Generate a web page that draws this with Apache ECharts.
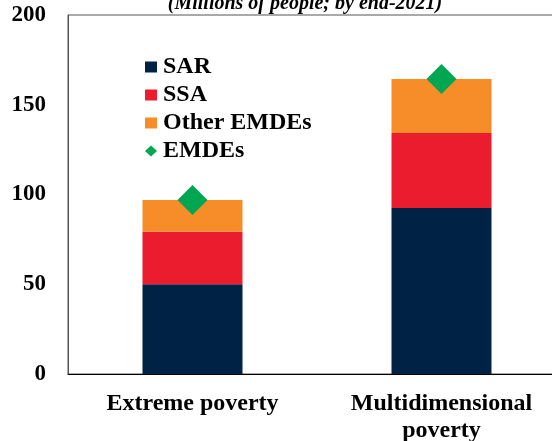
<!DOCTYPE html>
<html><head><meta charset="utf-8">
<script src="https://cdn.jsdelivr.net/npm/echarts@6/dist/echarts.min.js"></script>
<style>html,body{margin:0;padding:0;background:#fff}#c{width:552px;height:441px}</style>
</head><body><div id="c"></div>
<script>
const categories = ['Extreme poverty', 'Multidimensional\npoverty'];
const sar = [50, 92.5];
const ssa = [29.3, 41.8];
const other = [17.6, 30];
const emdes = [97, 164.3];
const yTicks = [0, 50, 100, 150, 200];

const font = '"Liberation Serif","Times New Roman",serif';
const chart = echarts.init(document.getElementById('c'));
chart.setOption({
  animation: false,
  title: {
    text: '(Millions of people; by end-2021)',
    left: 300, textAlign: 'center', top: -11,
    textStyle: {fontFamily: font, fontStyle: 'italic', fontWeight: 'bold', fontSize: 20, color: '#000'}
  },
  legend: {
    orient: 'vertical', left: 140, top: 50, itemGap: 4, itemWidth: 12, itemHeight: 11,
    data: [
      {name: 'SAR', icon: 'rect'},
      {name: 'SSA', icon: 'rect'},
      {name: 'Other EMDEs', icon: 'rect'},
      {name: 'EMDEs', icon: 'diamond'}
    ],
    textStyle: {fontFamily: font, fontWeight: 'bold', fontSize: 24, color: '#000', padding: [0,0,0,1]}
  },
  grid: {left: 68, right: -14, top: 15, bottom: 67, show: true, borderColor: '#555', borderWidth: 1, outerBoundsMode: 'none', containLabel: false},
  xAxis: {
    type: 'category', data: categories,
    axisLine: {lineStyle: {color: '#000', width: 1}},
    axisTick: {show: false},
    axisLabel: {fontFamily: font, fontWeight: 'bold', fontSize: 24, color: '#000', margin: 16, lineHeight: 27}
  },
  yAxis: {
    type: 'value', min: 0, max: 200, interval: 50,
    splitLine: {show: false},
    axisLine: {show: true, lineStyle: {color: '#555'}},
    axisLabel: {fontFamily: font, fontWeight: 'bold', fontSize: 23, color: '#000', margin: 22,
      formatter: v => yTicks.includes(v) ? String(v) : ''}
  },
  series: [
    {name: 'SAR', type: 'bar', stack: 'a', data: sar, barWidth: 100, itemStyle: {color: '#002345'}},
    {name: 'SSA', type: 'bar', stack: 'a', data: ssa, itemStyle: {color: '#EB1C2D'}},
    {name: 'Other EMDEs', type: 'bar', stack: 'a', data: other, itemStyle: {color: '#F78D28'}},
    {name: 'EMDEs', type: 'scatter', data: emdes, symbol: 'diamond', symbolSize: 30, itemStyle: {color: '#00A651', opacity: 1}, z: 5}
  ]
});
</script></body></html>
